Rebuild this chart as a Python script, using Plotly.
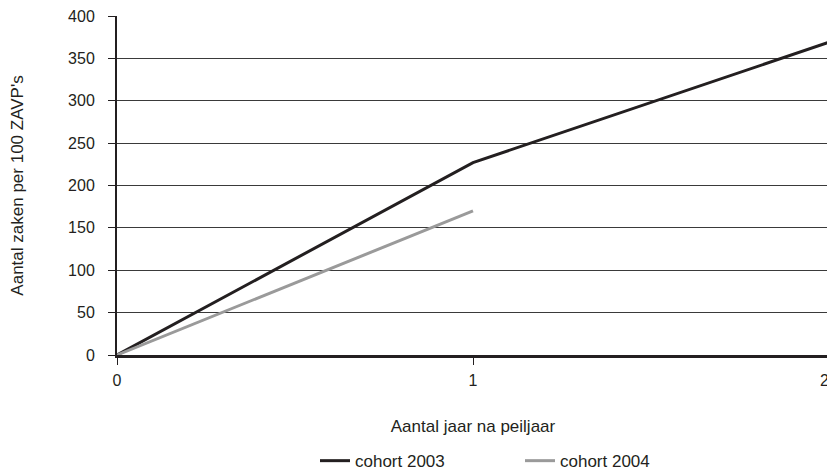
import plotly.graph_objects as go

jaren = [0, 1, 2]
cohort_2003 = [0, 227, 369]
cohort_2004 = [0, 170]
y_ticks = [0, 50, 100, 150, 200, 250, 300, 350, 400]

fig = go.Figure()
fig.add_trace(go.Scatter(
    x=jaren, y=cohort_2003, mode="lines", name="cohort 2003",
    line=dict(color="#231f20", width=3)
))
fig.add_trace(go.Scatter(
    x=jaren[:len(cohort_2004)], y=cohort_2004, mode="lines", name="cohort 2004",
    line=dict(color="#9a9a9a", width=3)
))

# right frame edge
fig.add_shape(type="line", xref="paper", yref="paper", x0=1, x1=1, y0=0, y1=1,
              line=dict(color="#6b6b6b", width=2))

# last x tick label gets clipped at the window edge, so draw it as an annotation
fig.add_annotation(x=jaren[-1], y=0, xref="x", yref="paper", text=str(jaren[-1]),
                   showarrow=False, xanchor="right", yanchor="middle",
                   xshift=2, yshift=-25,
                   font=dict(size=16, color="#231f20"))

# page body has an 8px margin, so the figure is 8px smaller on each side
fig.update_layout(
    width=827, height=463,
    margin=dict(l=109, r=6, t=8, b=116, autoexpand=False),
    plot_bgcolor="white", paper_bgcolor="white",
    font=dict(family="Liberation Sans, Arial, sans-serif", size=16, color="#231f20"),
    showlegend=True,
    legend=dict(orientation="h", x=0.566, xanchor="center", y=-0.313, yanchor="middle",
                font=dict(size=17), entrywidth=160, tracegroupgap=0),
    xaxis=dict(
        range=[0, 2], tickvals=jaren, ticktext=[str(j) for j in jaren[:-1]] + [""],
        showgrid=False, zeroline=False, automargin=False,
        showline=True, linecolor="#231f20", linewidth=3,
        ticks="outside", ticklen=7, tickcolor="#231f20",
        tickfont=dict(size=16), ticklabeloverflow="allow",
        ticklabelstandoff=2,
        title=dict(text="Aantal jaar na peiljaar", standoff=32, font=dict(size=17)),
    ),
    yaxis=dict(
        range=[0, 400], tickvals=y_ticks,
        showgrid=True, gridcolor="#3a3a3a", gridwidth=1, zeroline=False,
        automargin=False,
        showline=True, linecolor="#231f20", linewidth=2,
        ticks="outside", ticklen=7, tickcolor="#231f20",
        tickfont=dict(size=16), ticklabeloverflow="allow",
        ticklabelstandoff=10,
        title=dict(text="Aantal zaken per 100 ZAVP's", standoff=45, font=dict(size=17)),
    ),
)

fig.write_html("out.html")
